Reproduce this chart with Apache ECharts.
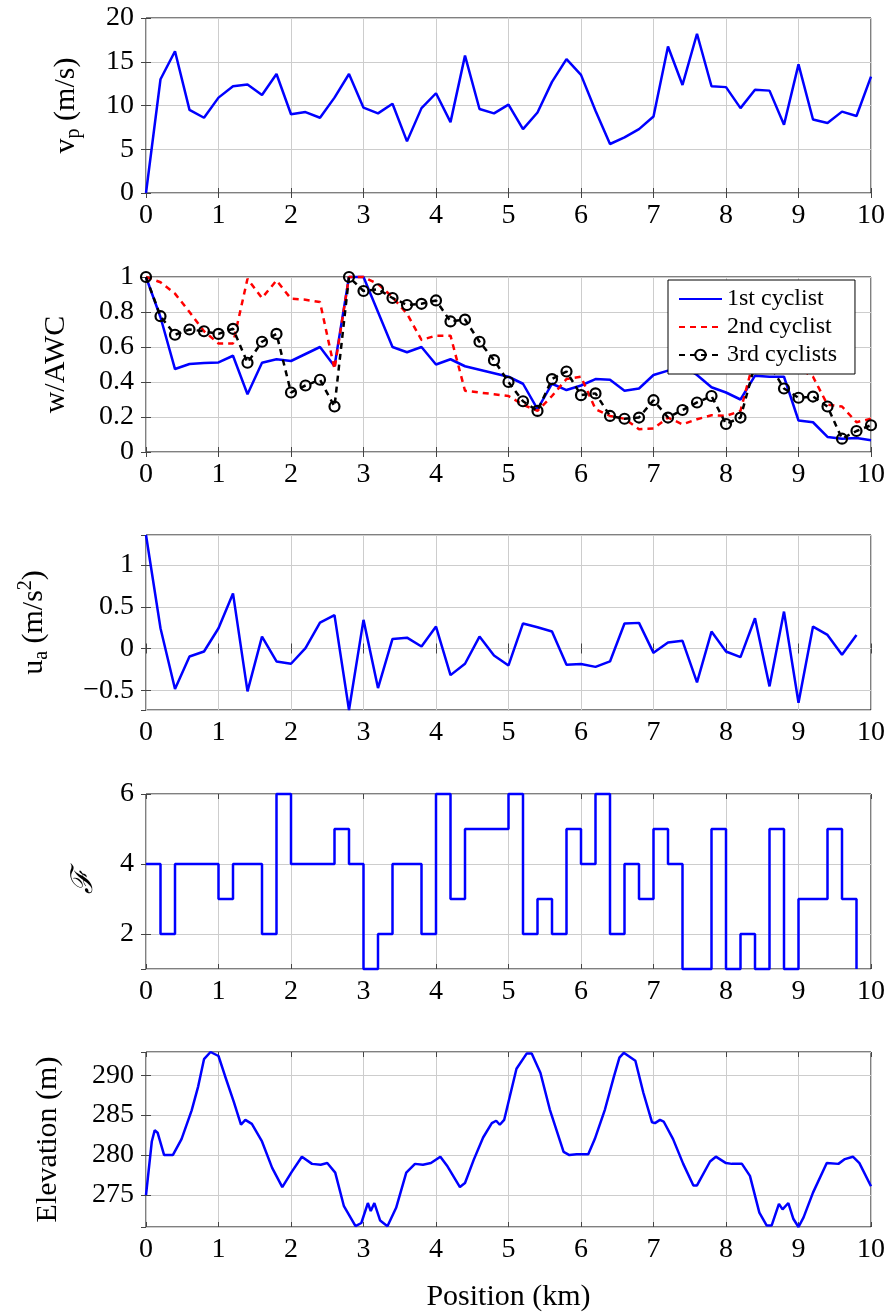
<!DOCTYPE html>
<html>
<head>
<meta charset="utf-8">
<title>Cyclists along the course</title>
<script src="https://cdn.jsdelivr.net/npm/echarts@6/dist/echarts.min.js"></script>
<style>
  html, body { margin: 0; padding: 0; background: #fff; }
  #main { width: 891px; height: 1315px; }
</style>
</head>
<body>
<div id="main"></div>
<script>
// sample positions along the course (km)
var positions = [0, 0.2, 0.4, 0.6, 0.8, 1, 1.2, 1.4, 1.6, 1.8, 2, 2.2, 2.4, 2.6, 2.8, 3, 3.2, 3.4, 3.6, 3.8,
  4, 4.2, 4.4, 4.6, 4.8, 5, 5.2, 5.4, 5.6, 5.8, 6, 6.2, 6.4, 6.6, 6.8, 7, 7.2, 7.4, 7.6, 7.8,
  8, 8.2, 8.4, 8.6, 8.8, 9, 9.2, 9.4, 9.6, 9.8, 10];

// v_p (m/s)
var speed = [0, 13.0, 16.2, 9.5, 8.6, 10.9, 12.2, 12.4, 11.2, 13.6, 9.0, 9.25, 8.6, 10.9, 13.6, 9.75, 9.1, 10.2, 5.9, 9.7,
  11.4, 8.1, 15.7, 9.6, 9.1, 10.1, 7.3, 9.2, 12.7, 15.3, 13.5, 9.4, 5.6, 6.35, 7.3, 8.75, 16.75, 12.35, 18.2, 12.2,
  12.1, 9.7, 11.8, 11.7, 7.8, 14.7, 8.4, 8.0, 9.3, 8.8, 13.3];

// w/AWC for each cyclist
var awc1 = [1.0, 0.77, 0.474, 0.503, 0.508, 0.512, 0.55, 0.33, 0.51, 0.53, 0.52, 0.56, 0.6, 0.49, 1.0, 1.0, 0.8, 0.6, 0.57, 0.6,
  0.5, 0.53, 0.49, 0.47, 0.45, 0.43, 0.39, 0.245, 0.39, 0.354, 0.38, 0.417, 0.413, 0.35, 0.363, 0.44, 0.465, 0.49, 0.44, 0.37,
  0.34, 0.3, 0.436, 0.43, 0.43, 0.18, 0.17, 0.086, 0.076, 0.08, 0.067];
var awc2 = [1.0, 0.97, 0.905, 0.8, 0.69, 0.62, 0.62, 0.99, 0.88, 0.98, 0.876, 0.87, 0.857, 0.474, 1.0, 1.0, 0.96, 0.885, 0.79, 0.64,
  0.665, 0.665, 0.35, 0.34, 0.33, 0.32, 0.27, 0.235, 0.32, 0.417, 0.43, 0.245, 0.206, 0.19, 0.13, 0.134, 0.197, 0.158, 0.187, 0.21,
  0.206, 0.235, 0.55, 0.55, 0.52, 0.48, 0.43, 0.27, 0.26, 0.17, 0.19];
var awc3 = [1.0, 0.776, 0.67, 0.7, 0.69, 0.675, 0.704, 0.51, 0.63, 0.675, 0.34, 0.38, 0.413, 0.26, 1.0, 0.92, 0.93, 0.88, 0.84, 0.847,
  0.866, 0.746, 0.757, 0.63, 0.525, 0.4, 0.29, 0.235, 0.417, 0.46, 0.325, 0.335, 0.206, 0.19, 0.197, 0.296, 0.197, 0.24, 0.283, 0.32,
  0.16, 0.197, 0.5, 0.5, 0.363, 0.31, 0.317, 0.26, 0.076, 0.12, 0.153];

// u_a (m/s^2), no value at 10 km
var accel = [1.36, 0.243, -0.486, -0.096, -0.036, 0.243, 0.66, -0.514, 0.143, -0.155, -0.183, 0.004, 0.31, 0.4, -0.737, 0.343, -0.474, 0.115, 0.13, 0.024,
  0.263, -0.319, -0.183, 0.143, -0.084, -0.203, 0.3, 0.255, 0.203, -0.195, -0.187, -0.22, -0.155, 0.3, 0.307, -0.052, 0.072, 0.092, -0.406, 0.203,
  -0.036, -0.104, 0.363, -0.454, 0.442, -0.65, 0.263, 0.163, -0.076, 0.163];

// F (held constant until the next sample)
var effort = [4, 2, 4, 4, 4, 3, 4, 4, 2, 6, 4, 4, 4, 5, 4, 1, 2, 4, 4, 2,
  6, 3, 5, 5, 5, 6, 2, 3, 2, 5, 4, 6, 2, 4, 3, 5, 4, 1, 1, 5,
  1, 2, 1, 5, 1, 3, 3, 5, 3, 1];

// elevation profile
var elevKm = [0, 0.08, 0.12, 0.16, 0.25, 0.37, 0.49, 0.63, 0.72, 0.8, 0.89, 1.0, 1.09, 1.21, 1.31, 1.37, 1.46, 1.6, 1.74, 1.88,
  2.01, 2.15, 2.29, 2.41, 2.5, 2.61, 2.73, 2.89, 2.97, 3.06, 3.1, 3.15, 3.23, 3.33, 3.45, 3.59, 3.71, 3.82, 3.93, 4.06,
  4.15, 4.33, 4.4, 4.52, 4.65, 4.77, 4.83, 4.88, 4.94, 5.11, 5.25, 5.32, 5.44, 5.57, 5.76, 5.84, 5.94, 6.1, 6.19, 6.33,
  6.45, 6.53, 6.59, 6.75, 6.86, 6.98, 7.02, 7.09, 7.14, 7.27, 7.41, 7.55, 7.6, 7.78, 7.86, 8.0, 8.08, 8.22, 8.33, 8.46,
  8.56, 8.63, 8.73, 8.78, 8.86, 8.93, 9.0, 9.07, 9.2, 9.39, 9.55, 9.64, 9.75, 9.84, 10.0];
var elevM = [275, 281.7, 283.1, 282.8, 280, 280, 282, 285.6, 288.6, 292, 292.9, 292.4, 289.9, 286.7, 283.8, 284.4, 283.9, 281.7, 278.4, 276,
  277.9, 279.8, 278.9, 278.8, 279, 277.8, 273.6, 271.1, 271.5, 274, 273, 274, 271.8, 271.1, 273.4, 277.8, 278.9, 278.8, 279, 279.8,
  278.7, 276, 276.5, 279.4, 282.2, 284, 284.3, 283.8, 284.4, 290.8, 292.7, 292.7, 290.3, 285.7, 280.4, 280, 280.1, 280.1, 282, 285.7,
  289.7, 292.2, 292.8, 291.8, 287.8, 284.1, 284, 284.4, 284.2, 282, 278.9, 276.2, 276.2, 279.2, 279.8, 279, 278.9, 278.9, 277.4, 272.8,
  271.2, 271.2, 273.9, 273.2, 274, 272, 271, 272.2, 275.3, 279, 278.9, 279.5, 279.8, 279, 276.1];

var legendNames = ['1st cyclist', '2nd cyclist', '3rd cyclists'];

function pairs(xs, ys) {
  return ys.map(function (y, i) { return [xs[i], y]; });
}

var font = 'Liberation Serif, DejaVu Serif, serif';
var tops = [18, 277, 535, 794, 1052];
var panelH = 175;

// y axis settings per panel
var yCfg = [
  { min: 0, max: 20, interval: 5, name: '{n|v}{s|p}{n| (m/s)}', gap: 62 },
  { min: 0, max: 1, interval: 0.2, name: '{n|w/AWC}', gap: 72 },
  { min: -0.737, max: 1.36, splitNumber: 4, name: '{n|u}{s|a}{n| (m/s}{t|2}{n|)}', gap: 94 },
  { min: 1, max: 6, splitNumber: 3, name: '{f|\u2131}', gap: 44 },
  { min: 271, max: 292.9, splitNumber: 4, name: '{n|Elevation (m)}', gap: 80 }
];

var nameRich = {
  n: { fontFamily: font, fontSize: 30, lineHeight: 36, color: '#000' },
  s: { fontFamily: font, fontSize: 20, lineHeight: 20, verticalAlign: 'bottom', color: '#000' },
  t: { fontFamily: font, fontSize: 20, lineHeight: 20, verticalAlign: 'top', color: '#000' },
  f: { fontFamily: 'DejaVu Serif, serif', fontSize: 30, fontStyle: 'italic', lineHeight: 36, color: '#000' }
};

var grids = [], xAxes = [], yAxes = [];
tops.forEach(function (top, i) {
  grids.push({ left: 146, right: 20, top: top, height: panelH, show: true,
    borderColor: '#000', borderWidth: 1, backgroundColor: 'transparent' });

  xAxes.push({
    type: 'value', gridIndex: i, min: 0, max: 10, interval: 1,
    axisLine: { show: false },
    axisTick: { inside: true, length: 5, lineStyle: { color: '#444' } },
    axisLabel: { fontFamily: font, fontSize: 28, color: '#000', margin: 9 },
    splitLine: { lineStyle: { color: '#cdcdcd', width: 1 } },
    name: i === 4 ? 'Position (km)' : '',
    nameLocation: 'middle', nameGap: 55,
    nameTextStyle: { fontFamily: font, fontSize: 30, color: '#000' }
  });

  var c = yCfg[i];
  var y = {
    type: 'value', gridIndex: i, min: c.min, max: c.max,
    axisLine: { show: false },
    axisTick: { inside: true, length: 5, lineStyle: { color: '#444' } },
    axisLabel: {
      fontFamily: font, fontSize: 28, color: '#000', margin: 12,
      showMinLabel: i < 2, showMaxLabel: i < 2 || i === 3,
      formatter: function (v) { return String(+v.toFixed(2)).replace('-', '\u2212'); }
    },
    splitLine: { lineStyle: { color: '#cdcdcd', width: 1 } },
    name: c.name, nameLocation: 'middle', nameRotate: 90, nameGap: c.gap,
    nameTextStyle: { rich: nameRich }
  };
  if (c.interval) y.interval = c.interval;
  if (c.splitNumber) y.splitNumber = c.splitNumber;
  yAxes.push(y);
});

// mirrored inner ticks on the top and right edges
tops.forEach(function (top, i) {
  xAxes.push({
    type: 'value', gridIndex: i, position: 'top', min: 0, max: 10, interval: 1,
    axisLine: { show: false }, axisLabel: { show: false }, splitLine: { show: false },
    axisTick: { inside: true, length: 5, lineStyle: { color: '#444' } }
  });
  var c = yCfg[i];
  var y = {
    type: 'value', gridIndex: i, position: 'right', min: c.min, max: c.max,
    axisLine: { show: false }, axisLabel: { show: false }, splitLine: { show: false },
    axisTick: { inside: true, length: 5, lineStyle: { color: '#444' } }
  };
  if (c.interval) y.interval = c.interval;
  if (c.splitNumber) y.splitNumber = c.splitNumber;
  yAxes.push(y);
});

function blueLine(idx, data, extra) {
  var s = {
    type: 'line', xAxisIndex: idx, yAxisIndex: idx, data: data,
    symbol: 'none', clip: false, animation: false,
    lineStyle: { color: '#0000ff', width: 2.5 }
  };
  for (var k in extra) s[k] = extra[k];
  return s;
}

var series = [
  blueLine(0, pairs(positions, speed)),
  blueLine(1, pairs(positions, awc1), { name: legendNames[0], itemStyle: { color: '#0000ff' } }),
  {
    name: legendNames[1], type: 'line', xAxisIndex: 1, yAxisIndex: 1,
    data: pairs(positions, awc2), symbol: 'none', clip: false, animation: false,
    itemStyle: { color: '#ff0000' },
    lineStyle: { color: '#ff0000', width: 2.5, type: [6, 5] }
  },
  {
    name: legendNames[2], type: 'line', xAxisIndex: 1, yAxisIndex: 1,
    data: pairs(positions, awc3), symbol: 'circle', symbolSize: 10, showAllSymbol: true,
    clip: false, animation: false,
    itemStyle: { color: 'rgba(0,0,0,0)', borderColor: '#000', borderWidth: 2.2 },
    lineStyle: { color: '#000', width: 2.5, type: [6, 5] }
  },
  blueLine(2, pairs(positions, accel)),
  blueLine(3, pairs(positions, effort), { step: 'end' }),
  blueLine(4, pairs(elevKm, elevM))
];

var myChart = echarts.init(document.getElementById('main'));
myChart.setOption({
  animation: false,
  grid: grids,
  xAxis: xAxes,
  yAxis: yAxes,
  legend: {
    // only the third cyclist shows a marker in the key
    data: [
      { name: legendNames[0], itemStyle: { opacity: 0 } },
      { name: legendNames[1], itemStyle: { opacity: 0 } },
      { name: legendNames[2] }
    ],
    orient: 'vertical', left: 668, top: 280,
    backgroundColor: '#fff', borderColor: '#000', borderWidth: 1, borderRadius: 0,
    padding: [7, 18, 7, 10], itemGap: 4, itemWidth: 43, itemHeight: 13,
    textStyle: { fontFamily: font, fontSize: 24, lineHeight: 23, color: '#000' },
    selectedMode: false
  },
  series: series
});
</script>
</body>
</html>
